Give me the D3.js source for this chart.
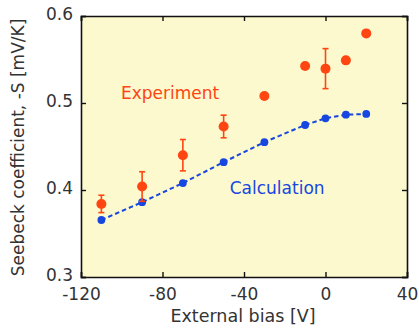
<!DOCTYPE html>
<html>
<head>
<meta charset="utf-8">
<script src="https://cdn.jsdelivr.net/npm/d3@7"></script>
<style>
  body { margin: 0; background: #fff; }
  svg text { font-family: "DejaVu Sans", sans-serif; }
</style>
</head>
<body>
<svg id="chart"></svg>
<script>
// values
const biasExp = [-110, -90, -70, -50, -30, -10, 0, 10, 20];
const seebeckExp = [0.384, 0.404, 0.440, 0.473, 0.508, 0.5425, 0.5395, 0.549, 0.580];
const errExp = [0.010, 0.017, 0.018, 0.013, 0, 0, 0.023, 0, 0];

const biasCalc = [-110, -90, -70, -50, -30, -10, 0, 10, 20];
const seebeckCalc = [0.3655, 0.386, 0.408, 0.432, 0.455, 0.4747, 0.4824, 0.4866, 0.4874];

const xTicks = [-120, -80, -40, 0, 40];
const yTicks = [0.3, 0.4, 0.5, 0.6];

const W = 419, H = 332;
const margin = { top: 16, right: 12, bottom: 55, left: 81 };
const width = W - margin.left - margin.right;
const height = H - margin.top - margin.bottom;

const orange = "#ff4512";
const blue = "#1746e0";

const svg = d3.select("#chart").attr("width", W).attr("height", H);
const g = svg.append("g").attr("transform", `translate(${margin.left},${margin.top})`);

const x = d3.scaleLinear().domain([-120, 40]).range([0, width]);
const y = d3.scaleLinear().domain([0.3, 0.6]).range([height, 0]);

// plot background
g.append("rect")
    .attr("width", width).attr("height", height)
    .attr("fill", "#fbf9cd");

// axes, ticks pointing inward (plain hyphen for minus, like the original)
g.append("g")
    .attr("transform", `translate(0,${height})`)
    .call(d3.axisBottom(x).tickValues(xTicks).tickSize(-5).tickPadding(11).tickFormat(d => String(d)));
g.append("g")
    .call(d3.axisTop(x).tickValues(xTicks).tickSize(-5).tickFormat(""));
g.append("g")
    .call(d3.axisLeft(y).tickValues(yTicks).tickSize(-5).tickPadding(8).tickFormat(d3.format(".1f")));
g.append("g")
    .attr("transform", `translate(${width},0)`)
    .call(d3.axisRight(y).tickValues(yTicks).tickSize(-5).tickFormat(""));

g.selectAll(".domain").attr("stroke", "#111").attr("stroke-width", 1.6);
g.selectAll(".tick line").attr("stroke", "#111").attr("stroke-width", 1.4);
g.selectAll(".tick text").attr("fill", "#333").style("font-size", "17px");
g.selectAll(".tick text").filter(function () { return this.parentNode.parentNode.getAttribute("transform") === null; })
    .attr("dy", "0.2em");

// calculation: dashed line with dots
const calc = biasCalc.map((b, i) => ({ b, v: seebeckCalc[i] }));
g.append("path")
    .datum(calc)
    .attr("fill", "none")
    .attr("stroke", blue)
    .attr("stroke-width", 2)
    .attr("stroke-dasharray", "4.5,3")
    .attr("d", d3.line().x(d => x(d.b)).y(d => y(d.v)));
g.selectAll(".calc")
    .data(calc)
    .enter()
    .append("circle")
    .attr("class", "calc")
    .attr("cx", d => x(d.b))
    .attr("cy", d => y(d.v))
    .attr("r", 3.9)
    .attr("fill", blue);

// experiment: dots with error bars
const exp = biasExp.map((b, i) => ({ b, v: seebeckExp[i], e: errExp[i] }));
const bars = g.selectAll(".err")
    .data(exp.filter(d => d.e > 0))
    .enter()
    .append("g")
    .attr("class", "err")
    .attr("stroke", orange)
    .attr("stroke-width", 1.6);
bars.append("line")
    .attr("x1", d => x(d.b)).attr("x2", d => x(d.b))
    .attr("y1", d => y(d.v - d.e)).attr("y2", d => y(d.v + d.e));
bars.append("line")
    .attr("x1", d => x(d.b) - 3).attr("x2", d => x(d.b) + 3)
    .attr("y1", d => y(d.v + d.e)).attr("y2", d => y(d.v + d.e));
bars.append("line")
    .attr("x1", d => x(d.b) - 3).attr("x2", d => x(d.b) + 3)
    .attr("y1", d => y(d.v - d.e)).attr("y2", d => y(d.v - d.e));
g.selectAll(".exp")
    .data(exp)
    .enter()
    .append("circle")
    .attr("class", "exp")
    .attr("cx", d => x(d.b))
    .attr("cy", d => y(d.v))
    .attr("r", 5)
    .attr("fill", orange);

// labels inside the plot
g.append("text")
    .attr("x", x(-100.4))
    .attr("y", y(0.5046))
    .attr("fill", orange)
    .style("font-size", "17px")
    .text("Experiment");
g.append("text")
    .attr("x", x(-47))
    .attr("y", y(0.3954))
    .attr("fill", blue)
    .style("font-size", "17px")
    .text("Calculation");

// axis titles
svg.append("text")
    .attr("x", margin.left + width / 2 - 1)
    .attr("y", H - 10)
    .attr("text-anchor", "middle")
    .attr("fill", "#333")
    .style("font-size", "17.5px")
    .text("External bias [V]");
svg.append("text")
    .attr("transform", `translate(24,${147.5}) rotate(-90)`)
    .attr("text-anchor", "middle")
    .attr("fill", "#333")
    .style("font-size", "17px")
    .text("Seebeck coefficient, -S [mV/K]");
</script>
</body>
</html>
